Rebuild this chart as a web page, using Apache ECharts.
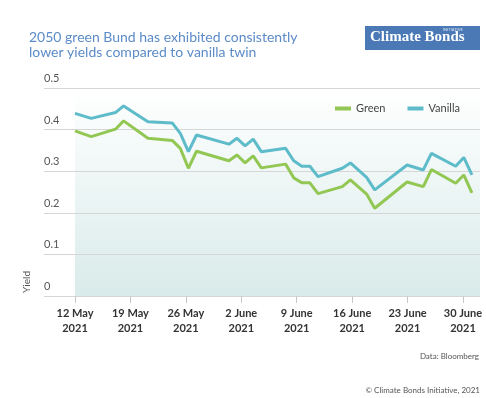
<!DOCTYPE html>
<html>
<head>
<meta charset="utf-8">
<script src="https://cdn.jsdelivr.net/npm/echarts@6/dist/echarts.min.js"></script>
<style>
  html, body { margin: 0; padding: 0; background: #fff; }
  #mChart { width: 486px; height: 398px; }
</style>
</head>
<body>
<div id="mChart"></div>
<script>
  // trading days (weekends / collinear days skipped)
  const dates = ['2021-05-12','2021-05-14','2021-05-17','2021-05-18','2021-05-21','2021-05-24','2021-05-25',
    '2021-05-26','2021-05-27','2021-05-31','2021-06-01','2021-06-02','2021-06-03','2021-06-04',
    '2021-06-07','2021-06-08','2021-06-09','2021-06-10','2021-06-11','2021-06-14','2021-06-15',
    '2021-06-17','2021-06-18','2021-06-22','2021-06-24','2021-06-25','2021-06-28','2021-06-29','2021-06-30'];
  const green = [0.397,0.383,0.401,0.421,0.379,0.374,0.355,
    0.307,0.348,0.325,0.339,0.320,0.337,0.308,
    0.317,0.284,0.272,0.272,0.246,0.263,0.279,
    0.245,0.211,0.274,0.263,0.304,0.271,0.291,0.248];
  const vanilla = [0.439,0.427,0.441,0.457,0.419,0.416,0.391,
    0.347,0.387,0.365,0.379,0.361,0.377,0.347,
    0.355,0.325,0.312,0.312,0.287,0.307,0.320,
    0.285,0.255,0.315,0.303,0.343,0.312,0.333,0.291];
  const tickLabels = ['12 May\n2021','19 May\n2021','26 May\n2021','2 June\n2021',
    '9 June\n2021','16 June\n2021','23 June\n2021','30 June\n2021'];
  const yTicks = { min: 0, max: 0.5, interval: 0.1 };

  const font = 'Lato';
  let myChart = echarts.init(document.getElementById('mChart'));
  myChart.setOption({
    animation: false,
    textStyle: { fontFamily: font },
    title: {
      text: '2050 green Bund has exhibited consistently\nlower yields compared to vanilla twin',
      left: 24, top: 25,
      textStyle: { fontSize: 14, fontWeight: 'normal', color: '#5b8bc8', lineHeight: 15, fontFamily: font }
    },
    legend: {
      left: 330, top: 98,
      itemWidth: 16, itemHeight: 4, itemGap: 22,
      icon: 'rect',
      textStyle: { fontSize: 11, color: '#444' },
      data: ['Green', 'Vanilla']
    },
    grid: [
      // gridlines + y labels
      { left: 44, right: 6, top: 88, bottom: 102 },
      // shaded plot area with the lines
      { left: 75, right: 6, top: 88, bottom: 102, show: true, borderWidth: 0, z: -1,
        backgroundColor: new echarts.graphic.LinearGradient(0, 0, 0, 1, [
          { offset: 0, color: '#ffffff' }, { offset: 1, color: '#d9ebea' }]) },
      // date tick labels
      { left: 75, width: 388, top: 88, bottom: 102 }
    ],
    xAxis: [
      { gridIndex: 0, type: 'value', show: false },
      { gridIndex: 1, type: 'time', min: '2021-05-12', max: '2021-07-01', show: false },
      { gridIndex: 2, type: 'category', data: tickLabels, boundaryGap: false,
        axisLine: { show: false },
        axisTick: { show: true, length: 7, lineStyle: { color: '#c8c8c8' } },
        axisLabel: { interval: 0, margin: 10, fontSize: 11, fontWeight: 'bold', color: '#333', lineHeight: 15 } }
    ],
    yAxis: [
      { gridIndex: 0, type: 'value', min: yTicks.min, max: yTicks.max, interval: yTicks.interval,
        axisLine: { show: false }, axisTick: { show: false },
        splitLine: { lineStyle: { color: '#d6d6d6' } },
        axisLabel: { inside: true, margin: 0, verticalAlign: 'bottom', padding: [0, 0, 4, 0],
          fontSize: 11, color: '#555' } },
      { gridIndex: 1, type: 'value', min: yTicks.min, max: yTicks.max, show: false },
      { gridIndex: 2, type: 'value', show: false }
    ],
    graphic: [
      { type: 'rect', left: 365, top: 26, shape: { width: 115, height: 24 }, style: { fill: '#4a79b6' } },
      { type: 'text', left: 370, top: 30, style: { text: 'Climate Bonds', fill: '#fff',
          font: 'bold 15px "Liberation Serif"' } },
      { type: 'text', left: 443, top: 28, style: { text: 'INITIATIVE', fill: '#dfe8f4', font: '4px Lato' } },
      { type: 'text', left: 22, top: 271, rotation: Math.PI / 2, style: { text: 'Yield', fill: '#555', font: '10px Lato' } },
      { type: 'text', right: 7, top: 352, style: { text: 'Data: Bloomberg', fill: '#555', font: '8px Lato' } },
      { type: 'text', right: 6, top: 386, style: { text: '\u00a9 Climate Bonds Initiative, 2021', fill: '#555', font: '8px Lato' } }
    ],
    series: [
      { name: 'Green', type: 'line', xAxisIndex: 1, yAxisIndex: 1, showSymbol: false,
        lineStyle: { width: 3, color: '#92c754' }, itemStyle: { color: '#92c754' },
        data: dates.map((d, i) => [d, green[i]]) },
      { name: 'Vanilla', type: 'line', xAxisIndex: 1, yAxisIndex: 1, showSymbol: false,
        lineStyle: { width: 3, color: '#5ebbc9' }, itemStyle: { color: '#5ebbc9' },
        data: dates.map((d, i) => [d, vanilla[i]]) }
    ]
  });
</script>
</body>
</html>
